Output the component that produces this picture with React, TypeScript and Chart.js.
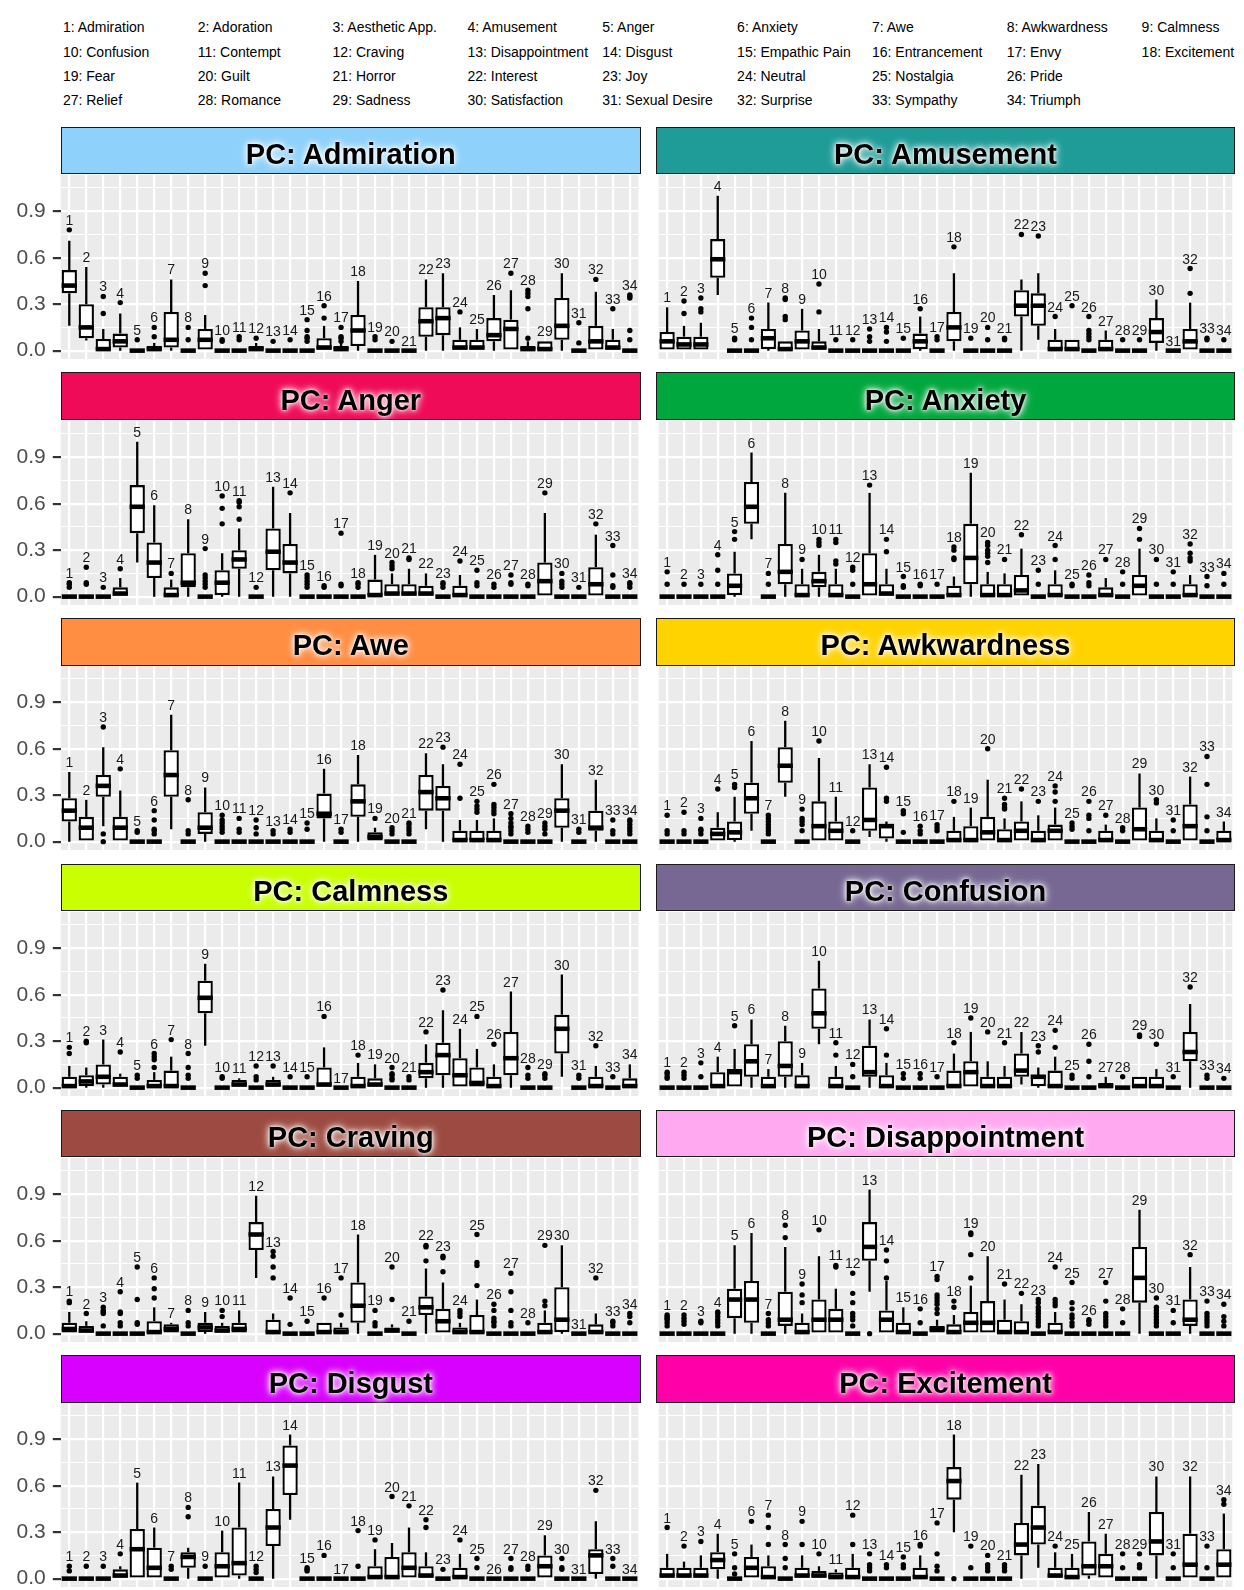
import React, { useEffect, useRef } from 'react';
import { Chart, registerables } from 'chart.js';

Chart.register(...registerables);

const FONT = '"Liberation Sans", Arial, Helvetica, sans-serif';

const emotionNames = [
  'Admiration', 'Adoration', 'Aesthetic App.', 'Amusement', 'Anger', 'Anxiety', 'Awe', 'Awkwardness', 'Calmness',
  'Confusion', 'Contempt', 'Craving', 'Disappointment', 'Disgust', 'Empathic Pain', 'Entrancement', 'Envy', 'Excitement',
  'Fear', 'Guilt', 'Horror', 'Interest', 'Joy', 'Neutral', 'Nostalgia', 'Pride',
  'Relief', 'Romance', 'Sadness', 'Satisfaction', 'Sexual Desire', 'Surprise', 'Sympathy', 'Triumph',
];
const categoryIds = emotionNames.map((_, i) => String(i + 1));

const yTickValues = [0, 0.15, 0.3, 0.45, 0.6, 0.75, 0.9, 1.05];
const yTickLabels = ['0.0', '', '0.3', '', '0.6', '', '0.9', ''];
const yMin = -0.054;
const yMax = 1.134;

const panelTitles = [
  'Admiration', 'Amusement', 'Anger', 'Anxiety', 'Awe', 'Awkwardness',
  'Calmness', 'Confusion', 'Craving', 'Disappointment', 'Disgust', 'Excitement',
];
const panelColors = [
  '#8ed1fb', '#1f9c98', '#ef0b57', '#00a73f', '#ff8d42', '#ffd300',
  '#c9ff00', '#766892', '#9d4b42', '#ffaaf0', '#d800ff', '#ff00a8',
];

// each box: [lower whisker, q1, median, q3, upper whisker]
const Z = [0, 0, 0, 0, 0];

const admirationBoxes = [
  [0.16, 0.37, 0.42, 0.52, 0.71], [0.065, 0.08, 0.15, 0.3, 0.54], [0, 0, 0.01, 0.075, 0.14], [0, 0.02, 0.06, 0.11, 0.24],
  Z, [0, 0, 0.01, 0.03, 0.05], [0, 0.02, 0.07, 0.25, 0.46], Z, [0, 0, 0.07, 0.14, 0.23], Z, Z,
  [0, 0, 0.01, 0.03, 0.05], Z, Z, Z, [0, 0, 0.02, 0.08, 0.16], [0, 0, 0.01, 0.03, 0.05], [0, 0.03, 0.13, 0.23, 0.45],
  Z, Z, Z, [0, 0.09, 0.19, 0.28, 0.46], [0, 0.1, 0.21, 0.28, 0.5], [0, 0, 0.02, 0.07, 0.15], [0, 0, 0.02, 0.07, 0.14],
  [0, 0.06, 0.1, 0.21, 0.36], [0, 0, 0.14, 0.2, 0.39], [0, 0, 0.01, 0.03, 0.06], [0, 0, 0.01, 0.06, 0.06],
  [0, 0.07, 0.16, 0.34, 0.5], Z, [0, 0, 0.06, 0.16, 0.38], [0, 0, 0.02, 0.07, 0.14], Z,
];
const admirationOutliers = [
  [0.78], [], [0.24, 0.35], [0.31], [0.07], [0.09, 0.15], [], [0.07, 0.15], [0.42, 0.5], [0.06, 0.07], [0.07, 0.09],
  [0.08], [0.06], [0.07], [0.06, 0.08, 0.09, 0.13, 0.2], [0.21, 0.29], [0.06, 0.08, 0.09, 0.15], [],
  [0.07, 0.09], [0.06], [], [], [], [0.25], [], [], [0.5], [0.08, 0.27, 0.35, 0.37, 0.39], [],
  [], [0.05, 0.18], [0.46], [0.27], [0.07, 0.13, 0.34, 0.35, 0.36],
];

const amusementBoxes = [
  [0, 0, 0.06, 0.12, 0.28], [0, 0, 0.04, 0.09, 0.16], [0, 0, 0.04, 0.09, 0.18], [0.36, 0.47, 0.59, 0.72, 1.0],
  Z, Z, [0, 0.01, 0.08, 0.14, 0.31], [0, 0, 0.01, 0.06, 0.06], [0, 0, 0.06, 0.13, 0.27], [0, 0, 0.02, 0.06, 0.14],
  Z, Z, Z, Z, Z, [0, 0.01, 0.06, 0.11, 0.22], Z, [0, 0.06, 0.15, 0.25, 0.5], Z, Z, Z,
  [0, 0.22, 0.29, 0.39, 0.46], [0.07, 0.16, 0.29, 0.37, 0.5], [0, 0, 0.01, 0.07, 0.14], [0, 0, 0.01, 0.07, 0.07],
  Z, [0, 0, 0.01, 0.07, 0.13], Z, Z, [0, 0.05, 0.12, 0.21, 0.33], Z, [0, 0, 0.06, 0.14, 0.31], Z, Z,
];
const amusementOutliers = [
  [], [0.24, 0.32], [0.25, 0.27, 0.34], [], [0.07, 0.08], [0.07, 0.15, 0.21], [], [0.2, 0.22, 0.33, 0.34], [],
  [0.25, 0.43], [0.07], [0.07], [0.06, 0.09, 0.14], [0.06, 0.12, 0.15], [0.08], [0.27], [0.07, 0.09], [0.67],
  [0.08], [0.07, 0.15], [0.07, 0.08], [0.75], [0.74], [0.22], [0.29], [0.07, 0.09, 0.11, 0.13, 0.22], [],
  [0.07], [0.07], [], [], [0.37, 0.53], [0.07, 0.08], [0.07],
];

const angerBoxes = [
  Z, Z, Z, [0, 0, 0.02, 0.06, 0.12], [0.22, 0.41, 0.58, 0.72, 1.0], [0, 0.12, 0.22, 0.35, 0.59], [0, 0, 0.01, 0.06, 0.11],
  [0, 0.06, 0.09, 0.28, 0.5], Z, [0, 0.01, 0.09, 0.17, 0.28], [0, 0.18, 0.24, 0.3, 0.44], Z,
  [0, 0.17, 0.29, 0.44, 0.71], [0, 0.15, 0.22, 0.34, 0.54], Z, Z, Z, Z, [0, 0, 0.01, 0.11, 0.27],
  [0, 0, 0.02, 0.08, 0.15], [0, 0, 0.02, 0.08, 0.18], [0, 0, 0.02, 0.07, 0.15], Z, [0, 0, 0.01, 0.07, 0.14],
  Z, Z, Z, Z, [0, 0, 0.1, 0.22, 0.54], Z, Z, [0, 0, 0.08, 0.19, 0.4], Z, Z,
];
const angerOutliers = [
  [0.06, 0.08, 0.09], [0.08, 0.09, 0.19], [0.06], [0.18], [], [], [0.15], [], [0.06, 0.08, 0.1, 0.12, 0.14, 0.31],
  [0.47, 0.57, 0.65], [0.5, 0.58, 0.61, 0.62], [0.06], [], [0.67], [0.06, 0.08, 0.1, 0.12, 0.14], [0.06, 0.07],
  [0.07, 0.08, 0.41], [0.06, 0.08, 0.09], [], [0.18, 0.2, 0.22], [0.24, 0.25], [], [0.06, 0.08, 0.09], [0.23],
  [0.07, 0.09, 0.17], [0.06, 0.08], [0.08, 0.09, 0.14], [0.07, 0.08], [0.67], [0.06, 0.08, 0.1, 0.15], [0.06],
  [0.47], [0.06, 0.07, 0.14, 0.33], [0.06, 0.08, 0.09],
];

const anxietyBoxes = [
  Z, Z, Z, Z, [0, 0.01, 0.07, 0.15, 0.29], [0.37, 0.47, 0.58, 0.74, 0.93], Z, [0, 0.08, 0.16, 0.34, 0.67],
  [0, 0, 0.01, 0.08, 0.18], [0, 0.06, 0.1, 0.16, 0.27], [0, 0, 0.01, 0.08, 0.18], Z, [0, 0, 0.08, 0.28, 0.67],
  [0, 0, 0.02, 0.08, 0.18], Z, Z, Z, [0, 0, 0.01, 0.07, 0.13], [0, 0.08, 0.25, 0.47, 0.8], [0, 0, 0.01, 0.08, 0.16],
  [0, 0, 0.01, 0.08, 0.15], [0, 0, 0.04, 0.14, 0.31], Z, [0, 0, 0.01, 0.08, 0.17], Z, Z, [0, 0, 0.01, 0.06, 0.12],
  Z, [0, 0, 0.07, 0.14, 0.31], Z, Z, [0, 0, 0.01, 0.08, 0.14], Z, Z,
];
const anxietyOutliers = [
  [0.08, 0.16], [0.08], [0.08], [0.08, 0.17, 0.27], [0.37, 0.42], [], [0.08, 0.15], [], [0.24], [0.33, 0.35, 0.37],
  [0.21, 0.23, 0.35, 0.37], [0.08, 0.17, 0.19], [0.72], [0.29, 0.37], [0.06, 0.07, 0.13], [0.07, 0.08], [0.08],
  [0.24, 0.25, 0.3, 0.32], [], [0.22, 0.26, 0.28, 0.3, 0.33, 0.35], [0.24], [0.4], [0.08, 0.17], [0.24, 0.33],
  [0.07, 0.08], [0.07, 0.09, 0.14], [0.24], [0.08, 0.16], [0.37, 0.44], [0.08, 0.24], [0.08, 0.16],
  [0.23, 0.25, 0.28, 0.34], [0.07, 0.13], [0.08, 0.15],
];

const aweBoxes = [
  [0, 0.13, 0.2, 0.28, 0.45], [0, 0, 0.09, 0.16, 0.27], [0.1, 0.29, 0.36, 0.43, 0.61], [0, 0, 0.09, 0.16, 0.33], Z, Z,
  [0.08, 0.29, 0.43, 0.59, 0.82], Z, [0, 0.05, 0.09, 0.19, 0.35], Z, Z, Z, Z, Z, Z, [0, 0.15, 0.18, 0.31, 0.47], Z,
  [0, 0.16, 0.26, 0.37, 0.56], [0, 0, 0.03, 0.06, 0.09], Z, Z, [0.08, 0.2, 0.32, 0.43, 0.57], [0, 0.2, 0.28, 0.36, 0.5],
  [0, 0, 0.01, 0.07, 0.14], [0, 0, 0.01, 0.07, 0.14], [0, 0, 0.01, 0.07, 0.15], Z, Z, Z, [0, 0.09, 0.2, 0.28, 0.5], Z,
  [0, 0.07, 0.09, 0.2, 0.4], Z, Z,
];
const aweOutliers = [
  [], [], [0, 0.05, 0.74], [0.47], [0.06, 0.07], [0.05, 0.07, 0.08, 0.14, 0.2], [], [0.05, 0.07, 0.27], [],
  [0.06, 0.08, 0.1, 0.12, 0.14, 0.17], [0.06, 0.08, 0.15], [0.05, 0.09, 0.14], [0.05, 0.07], [0.06, 0.08], [0.08, 0.12],
  [], [0.06, 0.08], [], [0.15], [0.05, 0.07, 0.09], [0.05, 0.07, 0.09, 0.11, 0.12], [], [0.61], [0.28, 0.5],
  [0.19, 0.21, 0.23, 0.26], [0.18, 0.2, 0.22, 0.24, 0.37], [0.05, 0.07, 0.09, 0.1, 0.12, 0.15, 0.18], [0.06, 0.08, 0.1],
  [0.05, 0.08, 0.1, 0.12], [], [0.06, 0.08], [], [0.05, 0.07, 0.14], [0.05, 0.07, 0.09, 0.11, 0.13, 0.14],
];

const awkwardnessBoxes = [
  Z, Z, Z, [0, 0, 0.05, 0.09, 0.19], [0, 0.01, 0.06, 0.13, 0.29], [0.07, 0.18, 0.28, 0.38, 0.65], Z,
  [0.29, 0.38, 0.49, 0.61, 0.78], Z, [0, 0, 0.1, 0.26, 0.54], [0, 0, 0.07, 0.13, 0.29], Z, [0.03, 0.07, 0.14, 0.35, 0.5],
  [0, 0.02, 0.1, 0.11, 0.13], Z, Z, Z, [0, 0, 0.01, 0.07, 0.16], [0, 0, 0.01, 0.1, 0.22], [0, 0, 0.06, 0.16, 0.4],
  [0, 0, 0.01, 0.08, 0.15], [0, 0, 0.07, 0.13, 0.26], [0, 0, 0.01, 0.07, 0.17], [0, 0, 0.07, 0.11, 0.22], Z, Z,
  [0, 0, 0.01, 0.07, 0.11], Z, [0, 0, 0.08, 0.22, 0.44], [0, 0, 0.01, 0.07, 0.15], Z, [0, 0, 0.1, 0.24, 0.42], Z,
  [0, 0, 0.01, 0.07, 0.13],
];
const awkwardnessOutliers = [
  [0.05, 0.07, 0.17], [0.05, 0.07, 0.19], [0.05, 0.07, 0.08, 0.15], [0.34], [0.35, 0.37], [],
  [0.05, 0.07, 0.09, 0.11, 0.13, 0.15, 0.17], [], [0.07, 0.11, 0.13, 0.15, 0.21], [0.65], [], [0.07], [],
  [0.26, 0.28, 0.48], [0.06, 0.18, 0.2], [0.05, 0.07, 0.1], [0.07, 0.09, 0.11], [0.26], [], [0.6],
  [0.21, 0.22, 0.24, 0.28], [0.34], [0.26], [0.26, 0.32, 0.36], [0.08, 0.1, 0.12], [0.07, 0.15, 0.17, 0.26], [0.17],
  [0.07, 0.09], [], [0.25, 0.27], [0.07, 0.14], [], [0.07, 0.16, 0.37, 0.55], [],
];

const calmnessBoxes = [
  [0, 0, 0.01, 0.07, 0.14], [0, 0.01, 0.04, 0.08, 0.13], [0, 0.02, 0.07, 0.15, 0.31], [0, 0, 0.02, 0.07, 0.09], Z,
  [0, 0, 0.01, 0.05, 0.1], [0, 0, 0.01, 0.11, 0.2], Z, [0.27, 0.48, 0.58, 0.69, 0.8], Z, [0, 0, 0.02, 0.05, 0.06], Z,
  [0, 0, 0.02, 0.05, 0.07], Z, Z, [0, 0, 0.02, 0.13, 0.26], Z, [0, 0, 0.01, 0.07, 0.16], [0, 0, 0.02, 0.06, 0.15], Z, Z,
  [0, 0.06, 0.1, 0.16, 0.28], [0, 0.08, 0.21, 0.29, 0.5], [0, 0, 0.08, 0.19, 0.38], [0, 0, 0.03, 0.13, 0.25],
  [0, 0, 0.01, 0.07, 0.15], [0, 0.08, 0.19, 0.36, 0.62], Z, Z, [0.07, 0.22, 0.38, 0.47, 0.73], Z,
  [0, 0, 0.01, 0.07, 0.14], Z, [0, 0, 0.01, 0.06, 0.15],
];
const calmnessOutliers = [
  [0.22, 0.26], [0.29, 0.3], [], [0.23], [0.06, 0.08], [0.13, 0.18, 0.2, 0.22], [0.31], [0.06, 0.08, 0.13, 0.22], [],
  [0.06, 0.07], [], [0.05, 0.07, 0.14], [0.14], [0.07], [0.07], [0.46], [], [0.21], [], [0.05, 0.06, 0.08, 0.09, 0.13],
  [0.05, 0.07], [0.36], [0.63], [], [0.46], [0.28], [], [0.06, 0.08, 0.13], [0.06, 0.08, 0.09], [], [0.06, 0.08],
  [0.27], [0.07], [],
];

const confusionBoxes = [
  Z, Z, Z, [0, 0, 0.01, 0.1, 0.2], [0, 0, 0.1, 0.12, 0.25], [0, 0.07, 0.17, 0.28, 0.44], [0, 0, 0.01, 0.07, 0.12],
  [0, 0.07, 0.14, 0.3, 0.4], [0, 0, 0.01, 0.08, 0.16], [0.28, 0.38, 0.48, 0.64, 0.82], [0, 0, 0.01, 0.07, 0.14], Z,
  [0, 0.07, 0.1, 0.27, 0.44], [0, 0, 0.01, 0.08, 0.16], Z, Z, Z, [0, 0, 0.01, 0.11, 0.22], [0, 0, 0.1, 0.17, 0.36],
  [0, 0, 0.01, 0.07, 0.17], [0, 0, 0.01, 0.07, 0.14], [0.02, 0.07, 0.11, 0.22, 0.36], [0, 0.01, 0.07, 0.08, 0.13],
  [0, 0, 0.01, 0.11, 0.2], Z, Z, [0, 0, 0.01, 0.03, 0.07], Z, [0, 0, 0.01, 0.07, 0.07], [0, 0, 0.01, 0.07, 0.12], Z,
  [0, 0.17, 0.23, 0.36, 0.54], Z, Z,
];
const confusionOutliers = [
  [0.06, 0.07, 0.09, 0.1], [0.06, 0.08, 0.1], [0.07, 0.16], [], [0.4], [], [], [], [], [], [0.21, 0.29], [0.07, 0.15],
  [], [0.21, 0.38], [0.06, 0.09], [0.06, 0.09], [0.07], [0.29], [0.45], [0.36], [0.29], [], [0.23, 0.27], [0.26, 0.37],
  [0.06, 0.08], [0.07, 0.17, 0.28], [], [0.07], [0.33, 0.34], [0.28], [0.07], [0.65], [0.06, 0.08], [0.06],
];

const cravingBoxes = [
  [0, 0, 0.03, 0.07, 0.14], [0, 0, 0.02, 0.05, 0.08], Z, Z, Z, [0, 0, 0.01, 0.08, 0.17], [0, 0, 0.03, 0.06, 0.07], Z,
  [0, 0.01, 0.04, 0.07, 0.14], [0, 0, 0.02, 0.05, 0.07], [0, 0, 0.03, 0.07, 0.15], [0.36, 0.54, 0.64, 0.72, 0.89],
  [0, 0, 0.01, 0.09, 0.13], Z, Z, [0, 0, 0.01, 0.07, 0.07], [0, 0, 0.01, 0.04, 0.07], [0, 0.07, 0.18, 0.33, 0.64], Z,
  [0, 0, 0.02, 0.04, 0.06], Z, [0, 0.12, 0.17, 0.24, 0.42], [0, 0, 0.08, 0.16, 0.33], [0, 0, 0.01, 0.04, 0.07],
  [0, 0, 0.01, 0.12, 0.22], Z, Z, Z, [0, 0, 0.01, 0.07, 0.15], [0, 0.01, 0.09, 0.3, 0.57], Z, [0, 0, 0.01, 0.06, 0.13],
  Z, Z,
];
const cravingOutliers = [
  [0.2, 0.21], [0.13], [0.05, 0.13, 0.14, 0.15, 0.17], [0.05, 0.07, 0.13, 0.14, 0.27], [0.06, 0.07, 0.22, 0.43],
  [0.23, 0.29, 0.36], [], [0.05, 0.07, 0.15], [], [0.11, 0.15], [], [], [0.36, 0.43, 0.5, 0.53], [0.06, 0.23], [0.08],
  [0.23], [0.12, 0.36], [], [0.05, 0.07, 0.15], [0.22, 0.43], [0.08], [0.47, 0.56, 0.57], [0.4, 0.49, 0.5],
  [0.11, 0.13, 0.15], [0.31, 0.44, 0.46, 0.64], [0.05, 0.07, 0.08, 0.1, 0.15, 0.19], [0.05, 0.07, 0.15, 0.27, 0.39],
  [0.07], [0.18, 0.21, 0.57], [], [], [0.36], [0.05, 0.07, 0.08], [0.07, 0.11, 0.13],
];

const disappointmentBoxes = [
  Z, Z, Z, Z, [0, 0.1, 0.22, 0.29, 0.57], [0, 0.07, 0.22, 0.34, 0.65], Z, [0, 0.05, 0.09, 0.27, 0.56],
  [0, 0, 0.01, 0.07, 0.13], [0, 0, 0.09, 0.22, 0.5], [0, 0, 0.09, 0.16, 0.29], Z, [0.27, 0.47, 0.56, 0.72, 0.93],
  [0, 0, 0.09, 0.15, 0.34], [0, 0, 0.01, 0.07, 0.17], Z, [0, 0, 0.03, 0.05, 0.09], [0, 0, 0.01, 0.06, 0.12],
  [0, 0, 0.07, 0.14, 0.31], [0, 0, 0.07, 0.21, 0.5], [0, 0, 0.01, 0.09, 0.22], [0, 0, 0.01, 0.08, 0.19], Z,
  [0, 0, 0.01, 0.07, 0.14], Z, Z, Z, Z, [0, 0.2, 0.36, 0.56, 0.8], Z, Z, [0, 0.05, 0.09, 0.22, 0.43], Z, Z,
];
const disappointmentOutliers = [
  [0.05, 0.07, 0.09, 0.1, 0.11, 0.12], [0.06, 0.08, 0.1, 0.12], [0.07, 0.08], [0.05, 0.07, 0.09, 0.11, 0.13, 0.14],
  [], [], [0.05, 0.07, 0.09, 0.13], [0.62, 0.7], [0.2, 0.25, 0.32], [0.67], [0.43, 0.44],
  [0.05, 0.09, 0.11, 0.13, 0.2, 0.26, 0.39], [0], [0.36, 0.47, 0.54], [], [0.07, 0.16],
  [0.13, 0.16, 0.19, 0.21, 0.23, 0.25, 0.35, 0.37], [0.17, 0.21], [0.36, 0.51, 0.64, 0.65], [], [0.32], [0.26],
  [0.05, 0.07, 0.09, 0.11, 0.13, 0.15, 0.17, 0.2, 0.22], [0.18, 0.2, 0.22, 0.43], [0.05, 0.07, 0.1, 0.12, 0.16, 0.2, 0.33],
  [0.06, 0.08, 0.09], [0.05, 0.07, 0.09, 0.11, 0.13, 0.21, 0.33], [0.07, 0.16], [],
  [0.05, 0.07, 0.09, 0.11, 0.13, 0.15, 0.17, 0.23], [0.07, 0.15], [0.51], [0.05, 0.07, 0.09, 0.11, 0.13, 0.21],
  [0.05, 0.08, 0.11, 0.19],
];

const disgustBoxes = [
  Z, Z, Z, [0, 0, 0.02, 0.06, 0.08], [0, 0, 0.19, 0.32, 0.62], [0, 0, 0.07, 0.2, 0.33], Z, [0, 0.07, 0.14, 0.17, 0.2], Z,
  [0, 0, 0.08, 0.17, 0.31], [0, 0.02, 0.1, 0.33, 0.62], Z, [0, 0.21, 0.33, 0.45, 0.66], [0.38, 0.54, 0.73, 0.86, 0.93],
  Z, Z, Z, Z, [0, 0, 0.01, 0.08, 0.19], [0, 0, 0.01, 0.14, 0.23], [0, 0, 0.07, 0.17, 0.33], [0, 0, 0.02, 0.08, 0.17], Z,
  [0, 0, 0.01, 0.07, 0.16], Z, Z, Z, Z, [0, 0, 0.08, 0.15, 0.28], Z, Z, [0, 0.03, 0.15, 0.19, 0.37], Z, Z,
];
const disgustOutliers = [
  [0.05, 0.08], [0.08], [0.08], [0.16], [], [], [0.06, 0.08], [0.4, 0.46], [0.08], [], [], [0.04, 0.06, 0.08], [], [],
  [0.05, 0.06, 0.07], [0.15], [], [0.08, 0.31], [0.25], [0.53], [0.47], [0.33, 0.38], [0.06], [0.25], [0.07, 0.13], [],
  [0.06, 0.07, 0.13], [0.06, 0.08], [], [0.06, 0.07, 0.13], [], [0.57], [0.08, 0.13], [],
];

const excitementBoxes = [
  [0, 0, 0.02, 0.07, 0.16], [0, 0, 0.02, 0.07, 0.11], [0, 0, 0.02, 0.07, 0.15], [0, 0.06, 0.12, 0.17, 0.29], Z,
  [0, 0, 0.07, 0.14, 0.22], [0, 0, 0.01, 0.08, 0.15], Z, [0, 0, 0.02, 0.07, 0.15], [0, 0, 0.02, 0.05, 0.08],
  [0, 0, 0.01, 0.04, 0.06], [0, 0, 0.01, 0.07, 0.16], Z, Z, Z, [0, 0, 0.01, 0.07, 0.15], Z,
  [0.3, 0.51, 0.63, 0.72, 0.93], Z, Z, Z, [0, 0.15, 0.22, 0.36, 0.67], [0.07, 0.22, 0.33, 0.47, 0.74],
  [0, 0, 0.02, 0.07, 0.17], [0, 0, 0.01, 0.07, 0.16], [0, 0.02, 0.08, 0.24, 0.43], [0, 0, 0.08, 0.16, 0.29], Z, Z,
  [0, 0.15, 0.24, 0.43, 0.66], Z, [0, 0, 0.09, 0.29, 0.66], Z, [0, 0, 0.09, 0.19, 0.42],
];
const excitementOutliers = [
  [0.33], [0.21], [0.24], [], [0.03, 0.07, 0.16], [0.37], [0.22, 0.33, 0.41], [0.07, 0.13, 0.22], [0.22, 0.37], [0.16],
  [], [0.22, 0.41], [0.05, 0.07, 0.09, 0.16], [0.07, 0.09], [0.07, 0.09, 0.14], [0.21, 0.22], [0.05, 0.08, 0.16, 0.36],
  [0], [0.07, 0.21], [0.05, 0.07, 0.09, 0.15], [0.05, 0.07, 0.09], [], [], [0.21], [], [], [], [0.07, 0.16],
  [0.07, 0.09, 0.16], [], [0.07, 0.16], [], [0.07, 0.21], [0.48, 0.51],
];

const panelBoxes = [
  admirationBoxes, amusementBoxes, angerBoxes, anxietyBoxes, aweBoxes, awkwardnessBoxes,
  calmnessBoxes, confusionBoxes, cravingBoxes, disappointmentBoxes, disgustBoxes, excitementBoxes,
];
const panelOutliers = [
  admirationOutliers, amusementOutliers, angerOutliers, anxietyOutliers, aweOutliers, awkwardnessOutliers,
  calmnessOutliers, confusionOutliers, cravingOutliers, disappointmentOutliers, disgustOutliers, excitementOutliers,
];

// layout (px)
const HEADER_TOP0 = 126.7;
const ROW_STEP = 245.7;
const HEADER_H = 47.7;
const PLOT_TOP_OFFSET = 48.1;
const PLOT_H = 183.6;
const COL_LEFT = [60.8, 656];
const COL_WIDTH = [580, 579];
const PAD = 26;

const LEGEND_X0 = 62.9;
const LEGEND_DX = 134.84;
const LEGEND_Y0 = 27.4;
const LEGEND_DY = 24.33;

const isMajor = (v: number) => Math.abs(v / 0.3 - Math.round(v / 0.3)) < 1e-6;

function makeBoxPlugin(boxes: number[][], outliers: number[][]) {
  return {
    id: 'boxExtras',
    beforeDraw(chart: any) {
      const { ctx, chartArea: a } = chart;
      ctx.save();
      ctx.fillStyle = '#ebebeb';
      ctx.fillRect(a.left, a.top, a.right - a.left, a.bottom - a.top);
      ctx.restore();
    },
    beforeDatasetsDraw(chart: any) {
      const { ctx } = chart;
      const xs = chart.scales.x;
      const ys = chart.scales.y;
      ctx.save();
      ctx.strokeStyle = '#000';
      ctx.lineWidth = 2.3;
      ctx.lineCap = 'butt';
      boxes.forEach((b, i) => {
        const x = xs.getPixelForValue(i);
        ctx.beginPath();
        if (b[0] < b[1]) {
          ctx.moveTo(x, ys.getPixelForValue(b[0]));
          ctx.lineTo(x, ys.getPixelForValue(b[1]));
        }
        if (b[4] > b[3]) {
          ctx.moveTo(x, ys.getPixelForValue(b[3]));
          ctx.lineTo(x, ys.getPixelForValue(b[4]));
        }
        ctx.stroke();
      });
      ctx.restore();
    },
    afterDatasetDraw(chart: any, args: any) {
      if (args.index !== 0) return;
      const { ctx } = chart;
      const xs = chart.scales.x;
      const ys = chart.scales.y;
      const meta = chart.getDatasetMeta(0);
      ctx.save();
      ctx.strokeStyle = '#000';
      ctx.lineWidth = 4.6;
      boxes.forEach((b, i) => {
        const x = xs.getPixelForValue(i);
        const w = meta.data[i] ? meta.data[i].width : 15;
        const y = ys.getPixelForValue(b[2]);
        ctx.beginPath();
        ctx.moveTo(x - w / 2, y);
        ctx.lineTo(x + w / 2, y);
        ctx.stroke();
      });
      ctx.restore();
    },
    afterDatasetsDraw(chart: any) {
      const { ctx } = chart;
      const xs = chart.scales.x;
      const ys = chart.scales.y;
      ctx.save();
      ctx.fillStyle = '#1a1a1a';
      ctx.font = `14px ${FONT}`;
      ctx.textAlign = 'center';
      ctx.textBaseline = 'alphabetic';
      boxes.forEach((b, i) => {
        const top = Math.max(b[4], ...(outliers[i].length ? outliers[i] : [0]));
        ctx.fillText(categoryIds[i], xs.getPixelForValue(i), ys.getPixelForValue(top) - 5);
      });
      ctx.restore();
    },
  };
}

function BoxPanel({ index }: { index: number }) {
  const ref = useRef<HTMLCanvasElement>(null);
  const col = index % 2;
  const row = Math.floor(index / 2);
  const showY = col === 0;
  const canvasLeft = showY ? 0 : COL_LEFT[1];
  const canvasWidth = showY ? Math.round(COL_LEFT[0] + COL_WIDTH[0]) : COL_WIDTH[1];
  const plotTop = HEADER_TOP0 + ROW_STEP * row + PLOT_TOP_OFFSET;
  const canvasTop = Math.round(plotTop - PAD);
  const canvasHeight = Math.round(PLOT_H + 2 * PAD);

  useEffect(() => {
    const canvas = ref.current;
    if (!canvas) return;
    const boxes = panelBoxes[index];
    const outliers = panelOutliers[index];
    const scatterData: { x: string; y: number }[] = [];
    outliers.forEach((list, i) => list.forEach((v) => scatterData.push({ x: categoryIds[i], y: v })));

    const chart = new Chart(canvas, {
      type: 'bar',
      data: {
        labels: categoryIds,
        datasets: [
          {
            type: 'bar',
            data: boxes.map((b) => [b[1], b[3]]),
            backgroundColor: '#ffffff',
            borderColor: '#000000',
            borderWidth: 2.3,
            borderSkipped: false,
            barPercentage: 0.9,
            categoryPercentage: 1,
            order: 2,
          } as any,
          {
            type: 'scatter',
            data: scatterData,
            pointRadius: 2.7,
            pointHoverRadius: 2.7,
            pointBackgroundColor: '#000000',
            pointBorderWidth: 0,
            borderWidth: 0,
            order: 1,
          } as any,
        ],
      },
      options: {
        responsive: false,
        maintainAspectRatio: false,
        animation: false,
        devicePixelRatio: 1,
        events: [],
        layout: { padding: { top: PAD, bottom: PAD, left: 0, right: 0 } },
        plugins: { legend: { display: false }, tooltip: { enabled: false }, title: { display: false } },
        scales: {
          x: {
            type: 'category',
            offset: true,
            grid: { offset: false, color: '#ffffff', lineWidth: 2.2, drawTicks: false },
            border: { display: false },
            ticks: { display: false },
            afterFit: (s: any) => { s.height = 0; },
          },
          y: {
            type: 'linear',
            min: yMin,
            max: yMax,
            grid: {
              color: '#ffffff',
              lineWidth: (c: any) => (c.tick && isMajor(c.tick.value) ? 2.2 : 1.1),
              drawTicks: showY,
              tickLength: 8,
              tickWidth: 2.2,
              tickColor: (c: any) => (c.tick && isMajor(c.tick.value) ? '#333333' : 'rgba(0,0,0,0)'),
            },
            border: { display: false },
            ticks: {
              display: showY,
              autoSkip: false,
              padding: 7,
              color: '#4d4d4d',
              font: { family: FONT, size: 21 },
              callback: (_v: any, i: number) => yTickLabels[i],
            },
            afterBuildTicks: (s: any) => { s.ticks = yTickValues.map((v) => ({ value: v })); },
            afterFit: (s: any) => { s.width = showY ? COL_LEFT[0] : 0; },
          },
        },
      } as any,
      plugins: [makeBoxPlugin(boxes, outliers)],
    });
    return () => chart.destroy();
  }, [index]);

  return (
    <canvas
      ref={ref}
      width={canvasWidth}
      height={canvasHeight}
      style={{ position: 'absolute', left: canvasLeft, top: canvasTop, width: canvasWidth, height: canvasHeight }}
    />
  );
}

function Header({ index }: { index: number }) {
  const col = index % 2;
  const row = Math.floor(index / 2);
  return (
    <div
      style={{
        position: 'absolute',
        left: COL_LEFT[col],
        top: HEADER_TOP0 + ROW_STEP * row,
        width: COL_WIDTH[col],
        height: HEADER_H,
        boxSizing: 'border-box',
        border: '1.5px solid #1a1a1a',
        background: panelColors[index],
        display: 'flex',
        alignItems: 'center',
        justifyContent: 'center',
        paddingTop: 8,
        fontFamily: FONT,
        fontWeight: 'bold',
        fontSize: 29,
        color: '#000',
        textShadow: '0 0 3px #fff, 0 0 6px #fff, 0 0 10px rgba(255,255,255,0.85)',
        zIndex: 2,
      }}
    >
      {`PC: ${panelTitles[index]}`}
    </div>
  );
}

function legendPos(i: number) {
  if (i < 18) return { row: Math.floor(i / 9), col: i % 9 };
  return { row: 2 + Math.floor((i - 18) / 8), col: (i - 18) % 8 };
}

export default function App() {
  useEffect(() => {
    document.body.style.margin = '0';
    document.body.style.background = '#ffffff';
  }, []);
  return (
    <div style={{ position: 'absolute', left: 0, top: 0, width: 1244, height: 1590, background: '#ffffff', overflow: 'hidden' }}>
      {emotionNames.map((name, i) => {
        const p = legendPos(i);
        return (
          <div
            key={name}
            style={{
              position: 'absolute',
              left: LEGEND_X0 + LEGEND_DX * p.col,
              top: LEGEND_Y0 + LEGEND_DY * p.row - 8,
              height: 16,
              lineHeight: '16px',
              fontFamily: FONT,
              fontSize: 14,
              color: '#000',
              whiteSpace: 'nowrap',
            }}
          >
            {`${i + 1}: ${name}`}
          </div>
        );
      })}
      {panelTitles.map((t, i) => (
        <BoxPanel key={`p${t}`} index={i} />
      ))}
      {panelTitles.map((t, i) => (
        <Header key={`h${t}`} index={i} />
      ))}
    </div>
  );
}
